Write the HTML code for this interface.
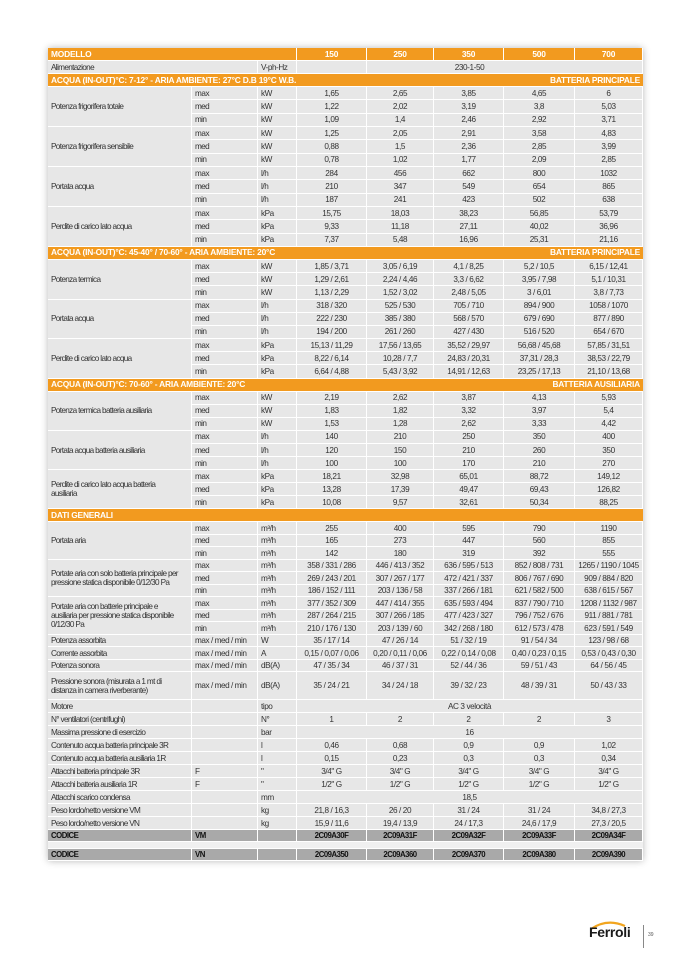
<!DOCTYPE html>
<html><head><meta charset="utf-8">
<style>
html,body{margin:0;padding:0;background:#fff;}
body{width:678px;height:959px;position:relative;overflow:hidden;font-family:"Liberation Sans Narrow","Liberation Sans",sans-serif;font-stretch:condensed;}
table{position:absolute;left:48px;top:48px;width:595px;border-collapse:separate;border-spacing:0;table-layout:fixed;box-shadow:0 0 7px rgba(0,0,0,0.28);background:#fff;}
td{padding:0 0 0 3px;border-right:1px solid #fff;border-bottom:1px solid #fff;background:#e7e7e7;color:#333;font-size:8.2px;white-space:nowrap;overflow:hidden;box-sizing:border-box;line-height:9px;letter-spacing:-0.45px;}
td:first-child{letter-spacing:-0.65px;}
td.v{text-align:center;padding:0;letter-spacing:-0.4px;}
tr.h td{background:#f29a1f;color:#fff;font-weight:bold;font-size:8.4px;letter-spacing:-0.2px;}
tr.s td{background:#f29a1f;color:#fff;font-weight:bold;font-size:8.4px;letter-spacing:-0.2px;border-right:none;}
tr.k td{background:#a9a9a9;color:#111;font-weight:bold;font-size:7.8px;letter-spacing:-0.5px;}
tr.g td{background:#f0f0f0;border-right:none;}
tr.a td{height:13.33px}
tr.b td{height:13.2px}
tr.c td{height:13.1px}
tr.d td{height:12.5px}
tr.e td{height:13px}
td.lab{vertical-align:middle;}
</style></head><body>
<table>
<colgroup><col style="width:144px"><col style="width:66px"><col style="width:39px"><col style="width:70px"><col style="width:67px"><col style="width:70px"><col style="width:71px"><col style="width:68px"></colgroup>
<tr class="h e"><td colspan="3">MODELLO</td><td class="v">150</td><td class="v">250</td><td class="v">350</td><td class="v">500</td><td class="v">700</td></tr>
<tr class="e"><td colspan="2">Alimentazione</td><td>V-ph-Hz</td><td class="v"></td><td class="v" colspan="4" style="padding-right:70px">230-1-50</td></tr>
<tr class="s e"><td colspan="6">ACQUA (IN-OUT)°C: 7-12° - ARIA AMBIENTE: 27°C D.B 19°C W.B.</td><td colspan="2" style="text-align:right;padding-right:3px">BATTERIA PRINCIPALE</td></tr>
<tr class="a"><td rowspan="3" class="lab">Potenza frigorifera totale</td><td>max</td><td>kW</td><td class="v">1,65</td><td class="v">2,65</td><td class="v">3,85</td><td class="v">4,65</td><td class="v">6</td></tr>
<tr class="a"><td>med</td><td>kW</td><td class="v">1,22</td><td class="v">2,02</td><td class="v">3,19</td><td class="v">3,8</td><td class="v">5,03</td></tr>
<tr class="a"><td>min</td><td>kW</td><td class="v">1,09</td><td class="v">1,4</td><td class="v">2,46</td><td class="v">2,92</td><td class="v">3,71</td></tr>
<tr class="a"><td rowspan="3" class="lab">Potenza frigorifera sensibile</td><td>max</td><td>kW</td><td class="v">1,25</td><td class="v">2,05</td><td class="v">2,91</td><td class="v">3,58</td><td class="v">4,83</td></tr>
<tr class="a"><td>med</td><td>kW</td><td class="v">0,88</td><td class="v">1,5</td><td class="v">2,36</td><td class="v">2,85</td><td class="v">3,99</td></tr>
<tr class="a"><td>min</td><td>kW</td><td class="v">0,78</td><td class="v">1,02</td><td class="v">1,77</td><td class="v">2,09</td><td class="v">2,85</td></tr>
<tr class="a"><td rowspan="3" class="lab">Portata acqua</td><td>max</td><td>l/h</td><td class="v">284</td><td class="v">456</td><td class="v">662</td><td class="v">800</td><td class="v">1032</td></tr>
<tr class="a"><td>med</td><td>l/h</td><td class="v">210</td><td class="v">347</td><td class="v">549</td><td class="v">654</td><td class="v">865</td></tr>
<tr class="a"><td>min</td><td>l/h</td><td class="v">187</td><td class="v">241</td><td class="v">423</td><td class="v">502</td><td class="v">638</td></tr>
<tr class="a"><td rowspan="3" class="lab">Perdite di carico lato acqua</td><td>max</td><td>kPa</td><td class="v">15,75</td><td class="v">18,03</td><td class="v">38,23</td><td class="v">56,85</td><td class="v">53,79</td></tr>
<tr class="a"><td>med</td><td>kPa</td><td class="v">9,33</td><td class="v">11,18</td><td class="v">27,11</td><td class="v">40,02</td><td class="v">36,96</td></tr>
<tr class="a"><td>min</td><td>kPa</td><td class="v">7,37</td><td class="v">5,48</td><td class="v">16,96</td><td class="v">25,31</td><td class="v">21,16</td></tr>
<tr class="s e"><td colspan="6">ACQUA (IN-OUT)°C: 45-40° / 70-60° - ARIA AMBIENTE: 20°C</td><td colspan="2" style="text-align:right;padding-right:3px">BATTERIA PRINCIPALE</td></tr>
<tr class="b"><td rowspan="3" class="lab">Potenza termica</td><td>max</td><td>kW</td><td class="v">1,85 / 3,71</td><td class="v">3,05 / 6,19</td><td class="v">4,1 / 8,25</td><td class="v">5,2 / 10,5</td><td class="v">6,15 / 12,41</td></tr>
<tr class="b"><td>med</td><td>kW</td><td class="v">1,29 / 2,61</td><td class="v">2,24 / 4,46</td><td class="v">3,3 / 6,62</td><td class="v">3,95 / 7,98</td><td class="v">5,1 / 10,31</td></tr>
<tr class="b"><td>min</td><td>kW</td><td class="v">1,13 / 2,29</td><td class="v">1,52 / 3,02</td><td class="v">2,48 / 5,05</td><td class="v">3 / 6,01</td><td class="v">3,8 / 7,73</td></tr>
<tr class="b"><td rowspan="3" class="lab">Portata acqua</td><td>max</td><td>l/h</td><td class="v">318 / 320</td><td class="v">525 / 530</td><td class="v">705 / 710</td><td class="v">894 / 900</td><td class="v">1058 / 1070</td></tr>
<tr class="b"><td>med</td><td>l/h</td><td class="v">222 / 230</td><td class="v">385 / 380</td><td class="v">568 / 570</td><td class="v">679 / 690</td><td class="v">877 / 890</td></tr>
<tr class="b"><td>min</td><td>l/h</td><td class="v">194 / 200</td><td class="v">261 / 260</td><td class="v">427 / 430</td><td class="v">516 / 520</td><td class="v">654 / 670</td></tr>
<tr class="b"><td rowspan="3" class="lab">Perdite di carico lato acqua</td><td>max</td><td>kPa</td><td class="v">15,13 / 11,29</td><td class="v">17,56 / 13,65</td><td class="v">35,52 / 29,97</td><td class="v">56,68 / 45,68</td><td class="v">57,85 / 31,51</td></tr>
<tr class="b"><td>med</td><td>kPa</td><td class="v">8,22 / 6,14</td><td class="v">10,28 / 7,7</td><td class="v">24,83 / 20,31</td><td class="v">37,31 / 28,3</td><td class="v">38,53 / 22,79</td></tr>
<tr class="b"><td>min</td><td>kPa</td><td class="v">6,64 / 4,88</td><td class="v">5,43 / 3,92</td><td class="v">14,91 / 12,63</td><td class="v">23,25 / 17,13</td><td class="v">21,10 / 13,68</td></tr>
<tr class="s e"><td colspan="6">ACQUA (IN-OUT)°C: 70-60° - ARIA AMBIENTE: 20°C</td><td colspan="2" style="text-align:right;padding-right:3px">BATTERIA AUSILIARIA</td></tr>
<tr class="c"><td rowspan="3" class="lab">Potenza termica batteria ausiliaria</td><td>max</td><td>kW</td><td class="v">2,19</td><td class="v">2,62</td><td class="v">3,87</td><td class="v">4,13</td><td class="v">5,93</td></tr>
<tr class="c"><td>med</td><td>kW</td><td class="v">1,83</td><td class="v">1,82</td><td class="v">3,32</td><td class="v">3,97</td><td class="v">5,4</td></tr>
<tr class="c"><td>min</td><td>kW</td><td class="v">1,53</td><td class="v">1,28</td><td class="v">2,62</td><td class="v">3,33</td><td class="v">4,42</td></tr>
<tr class="c"><td rowspan="3" class="lab">Portata acqua batteria ausiliaria</td><td>max</td><td>l/h</td><td class="v">140</td><td class="v">210</td><td class="v">250</td><td class="v">350</td><td class="v">400</td></tr>
<tr class="c"><td>med</td><td>l/h</td><td class="v">120</td><td class="v">150</td><td class="v">210</td><td class="v">260</td><td class="v">350</td></tr>
<tr class="c"><td>min</td><td>l/h</td><td class="v">100</td><td class="v">100</td><td class="v">170</td><td class="v">210</td><td class="v">270</td></tr>
<tr class="c"><td rowspan="3" class="lab">Perdite di carico lato acqua batteria<br>ausiliaria</td><td>max</td><td>kPa</td><td class="v">18,21</td><td class="v">32,98</td><td class="v">65,01</td><td class="v">88,72</td><td class="v">149,12</td></tr>
<tr class="c"><td>med</td><td>kPa</td><td class="v">13,28</td><td class="v">17,39</td><td class="v">49,47</td><td class="v">69,43</td><td class="v">126,82</td></tr>
<tr class="c"><td>min</td><td>kPa</td><td class="v">10,08</td><td class="v">9,57</td><td class="v">32,61</td><td class="v">50,34</td><td class="v">88,25</td></tr>
<tr class="s e"><td colspan="8">DATI GENERALI</td></tr>
<tr class="d"><td rowspan="3" class="lab">Portata aria</td><td>max</td><td>m³/h</td><td class="v">255</td><td class="v">400</td><td class="v">595</td><td class="v">790</td><td class="v">1190</td></tr>
<tr class="d"><td>med</td><td>m³/h</td><td class="v">165</td><td class="v">273</td><td class="v">447</td><td class="v">560</td><td class="v">855</td></tr>
<tr class="d"><td>min</td><td>m³/h</td><td class="v">142</td><td class="v">180</td><td class="v">319</td><td class="v">392</td><td class="v">555</td></tr>
<tr class="d"><td rowspan="3" class="lab">Portate aria con solo batteria principale per<br>pressione statica disponibile 0/12/30 Pa</td><td>max</td><td>m³/h</td><td class="v">358 / 331 / 286</td><td class="v">446 / 413 / 352</td><td class="v">636 / 595 / 513</td><td class="v">852 / 808 / 731</td><td class="v">1265 / 1190 / 1045</td></tr>
<tr class="d"><td>med</td><td>m³/h</td><td class="v">269 / 243 / 201</td><td class="v">307 / 267 / 177</td><td class="v">472 / 421 / 337</td><td class="v">806 / 767 / 690</td><td class="v">909 / 884 / 820</td></tr>
<tr class="d"><td>min</td><td>m³/h</td><td class="v">186 / 152 / 111</td><td class="v">203 / 136 / 58</td><td class="v">337 / 266 / 181</td><td class="v">621 / 582 / 500</td><td class="v">638 / 615 / 567</td></tr>
<tr class="d"><td rowspan="3" class="lab">Portate aria con batterie principale e<br>ausiliaria per pressione statica disponibile<br>0/12/30 Pa</td><td>max</td><td>m³/h</td><td class="v">377 / 352 / 309</td><td class="v">447 / 414 / 355</td><td class="v">635 / 593 / 494</td><td class="v">837 / 790 / 710</td><td class="v">1208 / 1132 / 987</td></tr>
<tr class="d"><td>med</td><td>m³/h</td><td class="v">287 / 264 / 215</td><td class="v">307 / 266 / 185</td><td class="v">477 / 423 / 327</td><td class="v">796 / 752 / 676</td><td class="v">911 / 881 / 781</td></tr>
<tr class="d"><td>min</td><td>m³/h</td><td class="v">210 / 176 / 130</td><td class="v">203 / 139 / 60</td><td class="v">342 / 268 / 180</td><td class="v">612 / 573 / 478</td><td class="v">623 / 591 / 549</td></tr>
<tr class="d"><td>Potenza assorbita</td><td>max / med / min</td><td>W</td><td class="v">35 / 17 / 14</td><td class="v">47 / 26 / 14</td><td class="v">51 / 32 / 19</td><td class="v">91 / 54 / 34</td><td class="v">123 / 98 / 68</td></tr>
<tr class="d"><td>Corrente assorbita</td><td>max / med / min</td><td>A</td><td class="v">0,15 / 0,07 / 0,06</td><td class="v">0,20 / 0,11 / 0,06</td><td class="v">0,22 / 0,14 / 0,08</td><td class="v">0,40 / 0,23 / 0,15</td><td class="v">0,53 / 0,43 / 0,30</td></tr>
<tr class="d"><td>Potenza sonora</td><td>max / med / min</td><td>dB(A)</td><td class="v">47 / 35 / 34</td><td class="v">46 / 37 / 31</td><td class="v">52 / 44 / 36</td><td class="v">59 / 51 / 43</td><td class="v">64 / 56 / 45</td></tr>
<tr><td style="height:28px">Pressione sonora (misurata a 1 mt di<br>distanza in camera riverberante)</td><td>max / med / min</td><td>dB(A)</td><td class="v">35 / 24 / 21</td><td class="v">34 / 24 / 18</td><td class="v">39 / 32 / 23</td><td class="v">48 / 39 / 31</td><td class="v">50 / 43 / 33</td></tr>
<tr class="e"><td>Motore</td><td></td><td>tipo</td><td class="v" colspan="5">AC 3 velocità</td></tr>
<tr class="e"><td>N° ventilatori (centrifughi)</td><td></td><td>N°</td><td class="v">1</td><td class="v">2</td><td class="v">2</td><td class="v">2</td><td class="v">3</td></tr>
<tr class="e"><td>Massima pressione di esercizio</td><td></td><td>bar</td><td class="v" colspan="5">16</td></tr>
<tr class="e"><td>Contenuto acqua batteria principale 3R</td><td></td><td>l</td><td class="v">0,46</td><td class="v">0,68</td><td class="v">0,9</td><td class="v">0,9</td><td class="v">1,02</td></tr>
<tr class="e"><td>Contenuto acqua batteria ausiliaria 1R</td><td></td><td>l</td><td class="v">0,15</td><td class="v">0,23</td><td class="v">0,3</td><td class="v">0,3</td><td class="v">0,34</td></tr>
<tr class="e"><td>Attacchi batteria principale 3R</td><td>F</td><td>"</td><td class="v">3/4" G</td><td class="v">3/4" G</td><td class="v">3/4" G</td><td class="v">3/4" G</td><td class="v">3/4" G</td></tr>
<tr class="e"><td>Attacchi batteria ausiliaria 1R</td><td>F</td><td>"</td><td class="v">1/2" G</td><td class="v">1/2" G</td><td class="v">1/2" G</td><td class="v">1/2" G</td><td class="v">1/2" G</td></tr>
<tr class="e"><td>Attacchi scarico condensa</td><td></td><td>mm</td><td class="v" colspan="5">18,5</td></tr>
<tr class="e"><td>Peso lordo/netto versione VM</td><td></td><td>kg</td><td class="v">21,8 / 16,3</td><td class="v">26 / 20</td><td class="v">31 / 24</td><td class="v">31 / 24</td><td class="v">34,8 / 27,3</td></tr>
<tr class="e"><td>Peso lordo/netto versione VN</td><td></td><td>kg</td><td class="v">15,9 / 11,6</td><td class="v">19,4 / 13,9</td><td class="v">24 / 17,3</td><td class="v">24,6 / 17,9</td><td class="v">27,3 / 20,5</td></tr>
<tr class="k"><td style="height:12px">CODICE</td><td>VM</td><td></td><td class="v">2C09A30F</td><td class="v">2C09A31F</td><td class="v">2C09A32F</td><td class="v">2C09A33F</td><td class="v">2C09A34F</td></tr>
<tr class="g"><td colspan="8" style="height:7px"></td></tr>
<tr class="k"><td style="height:12px">CODICE</td><td>VN</td><td></td><td class="v">2C09A350</td><td class="v">2C09A360</td><td class="v">2C09A370</td><td class="v">2C09A380</td><td class="v">2C09A390</td></tr>
</table>
<svg style="position:absolute;left:585px;top:918px" width="50" height="12"><path d="M6 11 Q22 0 40 8" stroke="#f2a51e" stroke-width="2.2" fill="none"/></svg>
<div style="position:absolute;left:589px;top:924px;font-family:'Liberation Sans',sans-serif;font-weight:bold;font-size:14px;color:#1a1a1a;letter-spacing:-0.3px">Ferroli</div>
<div style="position:absolute;left:643px;top:925px;width:1px;height:23px;background:#888"></div>
<div style="position:absolute;left:648px;top:932px;font-family:'Liberation Sans',sans-serif;font-size:5px;color:#555">39</div>
</body></html>
